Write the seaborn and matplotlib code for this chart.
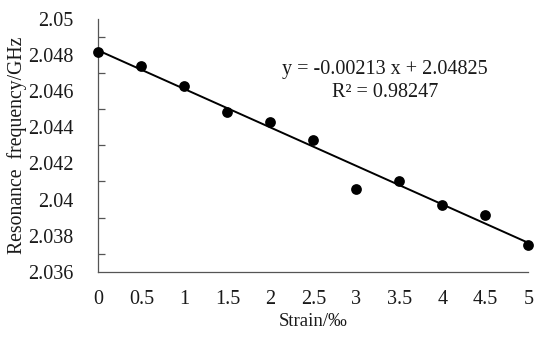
import numpy as np
import pandas as pd
import matplotlib
matplotlib.use("Agg")
import matplotlib.pyplot as plt
import seaborn as sns
from matplotlib.ticker import FixedLocator

# values
strain = [0, 0.5, 1, 1.5, 2, 2.5, 3, 3.5, 4, 4.5, 5]
frequency = [2.04815, 2.04742, 2.04630, 2.04482, 2.04430, 2.04330,
             2.04058, 2.04102, 2.03970, 2.03912, 2.03748]
slope = -0.00213
intercept = 2.04825
r_squared = 0.98247
x_ticks = [0, 0.5, 1, 1.5, 2, 2.5, 3, 3.5, 4, 4.5, 5]
y_ticks = [2.036, 2.038, 2.04, 2.042, 2.044, 2.046, 2.048, 2.05]
y_tick_labels = ["2.036", "2.038", "2.04", "2.042", "2.044", "2.046", "2.048", "2.05"]
y_minor = [2.037, 2.039, 2.041, 2.043, 2.045, 2.047, 2.049]

df = pd.DataFrame({"Strain": strain, "Frequency": frequency})
fit = pd.DataFrame({"Strain": [0, 5]})
fit["Frequency"] = slope * fit["Strain"] + intercept

sns.set_theme(style="white")
plt.rcParams["font.family"] = ["Liberation Serif", "DejaVu Serif"]

fs = 14.5
txt = "#1a1a1a"

fig = plt.figure(figsize=(5.5, 3.38), dpi=100)
ax = fig.add_axes([0.179, 0.196, 0.7816, 0.748])

sns.lineplot(data=fit, x="Strain", y="Frequency", color="black", linewidth=1.4, ax=ax)
sns.scatterplot(data=df, x="Strain", y="Frequency", color="black", s=60,
                edgecolor="black", linewidth=0, clip_on=False, zorder=5, ax=ax)

ax.set_xlim(0, 5)
ax.set_ylim(2.036, 2.05)
ax.xaxis.set_major_locator(FixedLocator(x_ticks))
ax.set_xticklabels([f"{t:g}" for t in x_ticks])
ax.set_yticks(y_ticks)
ax.set_yticklabels(y_tick_labels)
ax.yaxis.set_minor_locator(FixedLocator(y_minor))

ax.tick_params(axis="x", which="major", direction="in", length=5, width=0.9,
               color="#555555", labelsize=fs, pad=13, labelcolor=txt)
ax.tick_params(axis="y", which="major", length=0, labelsize=fs, pad=18, labelcolor=txt)
ax.tick_params(axis="y", which="minor", direction="in", length=5, width=0.9,
               color="#555555", left=True)

for side in ["top", "right"]:
    ax.spines[side].set_visible(False)
for side in ["left", "bottom"]:
    ax.spines[side].set_color("#555555")
    ax.spines[side].set_linewidth(0.9)

ax.set_xlabel("Strain/\u2030", fontsize=13.5, color=txt)
ax.set_ylabel("Resonance  frequency/GHz", fontsize=14.2, color=txt)
ax.xaxis.set_label_coords(0.5, -0.163)
ax.yaxis.set_label_coords(-0.166, 0.5)

ax.text(3.33, 2.0472, f"y = {slope} x + {intercept}",
        ha="center", va="center", fontsize=fs, color=txt)
ax.text(3.33, 2.0459, f"R\u00b2 = {r_squared}",
        ha="center", va="center", fontsize=fs, color=txt)

fig.savefig("out.png", dpi=100)
